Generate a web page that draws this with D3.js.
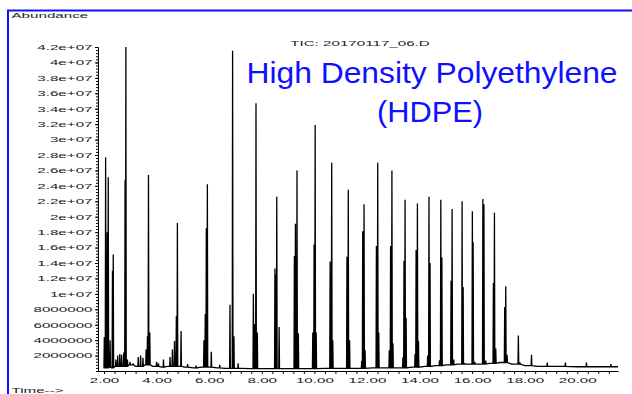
<!DOCTYPE html>
<html>
<head>
<meta charset="utf-8">
<script src="https://cdn.jsdelivr.net/npm/d3@7"></script>
<style>
body { margin: 0; background: #fff; }
svg { display: block; }
.small { font-family: "Liberation Sans", Arial, sans-serif; font-size: 7.4px; fill: #1c1c1c; }
.axis path, .axis line { stroke: #000; stroke-width: 1; }
.title { font-family: "Liberation Sans", Arial, sans-serif; font-size: 30px; fill: #1010ff; }
</style>
</head>
<body>
<div id="chart"></div>
<script>
// Peaks (retention time in min, abundance)
var peakTimes = [2.01, 2.06, 2.12, 2.16, 2.23, 2.32, 2.35, 2.45, 2.52, 2.60, 2.67, 2.75, 2.80, 2.83, 2.89,
    2.99, 3.11, 3.30, 3.39, 3.48, 3.60, 3.65, 3.69, 3.74, 4.00, 4.07, 4.26, 4.51, 4.60, 4.68, 4.75, 4.79, 4.93,
    5.18, 5.50, 5.80, 5.85, 5.89, 5.93, 6.08, 6.40, 6.79, 6.89, 6.94, 7.10, 7.68, 7.73, 7.78, 7.83,
    8.50, 8.53, 8.57, 8.66, 9.24, 9.28, 9.34, 9.39, 9.94, 9.99, 10.03, 10.07, 10.60, 10.66, 10.70,
    11.24, 11.29, 11.34, 11.80, 11.84, 11.89, 11.93, 12.36, 12.41, 12.45, 12.85, 12.90, 12.95, 12.99,
    13.37, 13.41, 13.45, 13.49, 13.83, 13.87, 13.92, 13.96, 14.31, 14.36, 14.40, 14.76, 14.81, 14.85,
    15.20, 15.24, 15.30, 15.62, 15.66, 15.72, 16.01, 16.04, 16.10, 16.41, 16.45, 16.52, 16.81, 16.85, 16.90,
    17.24, 17.28, 17.33, 17.76, 17.82, 18.26, 18.86, 19.55, 20.35, 21.28];
var peakHeights = [4.4e6, 2.77e7, 1.8e7, 2.51e7, 4.0e6, 1.3e7, 1.51e7, 1.5e6, 2.0e6, 2.2e6, 2.1e6, 2.4e6, 2.48e7, 4.2e7, 1.5e6,
    1.2e6, 1.0e6, 1.8e6, 2.0e6, 1.7e6, 2.8e6, 4.5e6, 2.54e7, 5.0e6, 1.2e6, 1.0e6, 1.5e6, 1.8e6, 2.8e6, 3.9e6, 7.1e6, 1.92e7, 5.2e6,
    0.9e6, 0.7e6, 4.0e6, 7.4e6, 1.85e7, 2.42e7, 2.5e6, 0.8e6, 8.6e6, 4.15e7, 4.5e6, 1.0e6, 1.0e7, 6.1e6, 3.47e7, 5.0e6,
    1.33e7, 1.25e7, 2.26e7, 5.7e6, 1.49e7, 1.91e7, 2.6e7, 4.9e6, 5.0e6, 1.64e7, 3.19e7, 5.0e6, 1.42e7, 2.7e7, 4.0e6,
    1.48e7, 2.35e7, 4.0e6, 1.3e6, 1.81e7, 2.16e7, 2.7e6, 1.62e7, 2.7e7, 5.0e6, 2.7e6, 1.62e7, 2.6e7, 3.6e6,
    1.8e6, 1.43e7, 2.22e7, 6.9e6, 2.2e6, 1.57e7, 2.17e7, 3.9e6, 2.0e6, 2.26e7, 1.4e7, 1.4e6, 2.22e7, 1.47e7,
    1.17e7, 2.1e7, 1.5e6, 2.2e7, 1.09e7, 1.0e6, 2.07e7, 1.67e7, 1.2e6, 2.23e7, 2.16e7, 1.35e6, 1.14e7, 2.05e7, 2.9e6,
    8.3e6, 1.1e7, 2.1e6, 4.6e6, 1.1e6, 2.1e6, 1.1e6, 1.1e6, 1.1e6, 0.9e6];

// Baseline between the peaks
var baseTimes = [1.98, 2.20, 2.28, 2.42, 2.95, 3.20, 3.55, 3.85, 4.20, 4.40, 5.05, 5.40, 5.70, 6.30, 6.60,
    7.20, 7.60, 8.20, 9.00, 9.80, 10.40, 11.00, 11.60, 12.20, 12.70, 13.20, 13.70, 14.20, 14.60, 15.00,
    15.45, 15.85, 16.25, 16.65, 17.05, 17.50, 18.00, 18.50, 19.20, 20.00, 21.00, 21.55];
var baseValues = [0.4e6, 0.5e6, 0.4e6, 0.6e6, 0.8e6, 0.6e6, 0.8e6, 0.6e6, 0.5e6, 0.6e6, 0.5e6, 0.4e6, 0.5e6, 0.4e6, 0.35e6,
    0.35e6, 0.3e6, 0.3e6, 0.3e6, 0.3e6, 0.35e6, 0.35e6, 0.35e6, 0.4e6, 0.4e6, 0.4e6, 0.5e6, 0.6e6, 0.7e6, 0.8e6,
    0.9e6, 0.9e6, 0.9e6, 1.0e6, 1.1e6, 0.9e6, 0.7e6, 0.6e6, 0.6e6, 0.55e6, 0.55e6, 0.55e6];

var yTickValues = [2e6, 4e6, 6e6, 8e6, 1e7, 1.2e7, 1.4e7, 1.6e7, 1.8e7, 2e7, 2.2e7, 2.4e7, 2.6e7,
    2.8e7, 3e7, 3.2e7, 3.4e7, 3.6e7, 3.8e7, 4e7, 4.2e7];
var xTickLabels = [2, 4, 6, 8, 10, 12, 14, 16, 18, 20];

var width = 632, height = 394;
var sx = 2.05; // the small ChemStation text is stretched sideways

var svg = d3.select("#chart").append("svg")
    .attr("width", width)
    .attr("height", height);

var x = d3.scaleLinear().domain([1.77, 21.55]).range([98, 618]);
var y = d3.scaleLinear().domain([0, 4.2e7]).range([371, 47]);

// blue frame
svg.append("path")
    .attr("d", "M8,394V10.5H632")
    .attr("fill", "none")
    .attr("stroke", "#1010ff")
    .attr("stroke-width", 2);

// build the trace: baseline points plus a narrow spike for each peak
var halfW = 0.014;
var footAt = function(t) {
    var i = d3.bisectRight(baseTimes, t) - 1;
    return baseValues[Math.max(i, 0)];
};
var trace = [];
baseTimes.forEach(function(t, i) {
    var near = peakTimes.some(function(p) { return Math.abs(p - t) < 2 * halfW; });
    if (!near) trace.push({t: t, v: baseValues[i]});
});
peakTimes.forEach(function(t, i) {
    var f = footAt(t);
    trace.push({t: t - halfW, v: f}, {t: t, v: peakHeights[i]}, {t: t + halfW, v: f});
});
trace.sort(function(a, b) { return a.t - b.t; });

var line = d3.line()
    .x(function(d) { return x(d.t); })
    .y(function(d) { return y(d.v); });

svg.append("path")
    .attr("d", line(trace))
    .attr("fill", "none")
    .attr("stroke", "#000")
    .attr("stroke-width", 1.3)
    .attr("stroke-linejoin", "miter")
    .attr("stroke-miterlimit", 2);

// Y axis: minor ticks then labelled ticks
svg.append("g")
    .attr("class", "axis")
    .attr("transform", "translate(98,0)")
    .call(d3.axisLeft(y).tickValues(d3.range(0, 4.2e7 + 1, 4e5)).tickSize(2).tickSizeOuter(0).tickFormat(""));

var yFmt = function(v) {
    return v < 1e7 ? String(v) : (+(v / 1e7).toFixed(1)) + "e+07";
};
var yAxis = svg.append("g")
    .attr("class", "axis")
    .attr("transform", "translate(98,0)")
    .call(d3.axisLeft(y).tickValues(yTickValues).tickSize(3).tickSizeOuter(0).tickFormat(yFmt));
yAxis.selectAll("text")
    .attr("class", "small")
    .attr("x", null)
    .attr("transform", "translate(-5.5,0) scale(" + sx + ",1)");

// X axis
var xAxis = svg.append("g")
    .attr("class", "axis")
    .attr("transform", "translate(0,371)")
    .call(d3.axisBottom(x)
        .tickValues(d3.range(2, 21.5, 0.4))
        .tickSize(3)
        .tickSizeOuter(0)
        .tickFormat(function(t) {
            var r = Math.round(t);
            return (Math.abs(t - r) < 1e-6 && xTickLabels.indexOf(r) >= 0) ? d3.format(".2f")(r) : "";
        }));
xAxis.selectAll("text")
    .attr("class", "small")
    .attr("y", null)
    .attr("dy", null)
    .attr("transform", "translate(0,11.7) scale(" + sx + ",1)");

// labels
svg.append("text").attr("class", "small")
    .attr("transform", "translate(11.5,18.3) scale(" + sx + ",1)")
    .text("Abundance");
svg.append("text").attr("class", "small")
    .attr("transform", "translate(11.5,393) scale(" + sx + ",1)")
    .text("Time-->");
svg.append("text").attr("class", "small")
    .attr("text-anchor", "middle")
    .attr("transform", "translate(360,46) scale(" + sx + ",1)")
    .text("TIC: 20170117_06.D");

svg.append("text").attr("class", "title")
    .attr("x", 432).attr("y", 83.3)
    .attr("text-anchor", "middle")
    .attr("textLength", 371).attr("lengthAdjust", "spacingAndGlyphs")
    .text("High Density Polyethylene");
svg.append("text").attr("class", "title")
    .attr("x", 430).attr("y", 121.5)
    .attr("text-anchor", "middle")
    .attr("textLength", 106).attr("lengthAdjust", "spacingAndGlyphs")
    .text("(HDPE)");
</script>
</body>
</html>
